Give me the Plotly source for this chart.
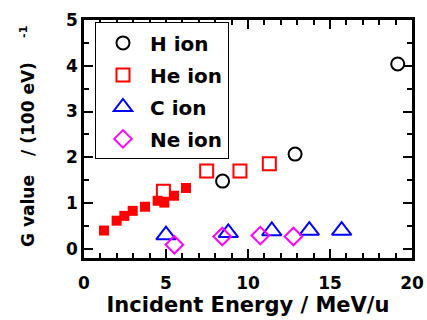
import plotly.graph_objects as go

# Radiation chemical yield (G value) versus incident ion energy
h_energy = [8.45, 12.87, 19.13]
h_g = [1.48, 2.07, 4.04]

he_energy = [4.84, 7.48, 9.51, 11.30]
he_g = [1.26, 1.70, 1.70, 1.86]

he_fill_energy = [1.22, 1.99, 2.46, 2.97, 3.72, 4.49, 4.90, 5.49, 6.22]
he_fill_g = [0.40, 0.615, 0.72, 0.83, 0.92, 1.05, 1.01, 1.16, 1.33]

c_energy = [5.00, 8.80, 11.45, 13.74, 15.71]
c_g = [0.30, 0.35, 0.39, 0.40, 0.40]

ne_energy = [5.51, 8.43, 10.75, 12.77]
ne_g = [0.09, 0.27, 0.29, 0.27]

x_ticks = [0, 5, 10, 15, 20]
y_ticks = [0, 1, 2, 3, 4, 5]

FONT = "DejaVu Sans"

fig = go.Figure()

fig.add_trace(go.Scatter(
    x=he_fill_energy, y=he_fill_g, mode="markers", showlegend=False,
    marker=dict(symbol="square", size=10, color="#ff0000", line=dict(width=0)),
))
fig.add_trace(go.Scatter(
    x=h_energy, y=h_g, mode="markers", name="H ion", legendgroup="h",
    marker=dict(symbol="circle-open", size=13, color="#000000", line=dict(width=2)),
))
fig.add_trace(go.Scatter(
    x=he_energy, y=he_g, mode="markers", name="He ion", legendgroup="he",
    marker=dict(symbol="square-open", size=13, color="#ff0000", line=dict(width=2)),
))
fig.add_trace(go.Scatter(
    x=c_energy, y=c_g, mode="markers", name="C ion", legendgroup="c",
    marker=dict(symbol="triangle-up-open", size=17, color="#0000ff", line=dict(width=2)),
))
fig.add_trace(go.Scatter(
    x=ne_energy, y=ne_g, mode="markers", name="Ne ion", legendgroup="ne",
    marker=dict(symbol="diamond-open", size=13.5, color="#ff00ff", line=dict(width=2)),
))

axis_common = dict(
    showgrid=False, zeroline=False, showline=True, linecolor="black", linewidth=2.5,
    mirror="allticks", ticks="inside", ticklen=9, tickwidth=2, tickcolor="black",
    automargin=False,
    tickfont=dict(family=FONT, size=17, color="black", weight="bold"),
)

fig.update_xaxes(
    range=[0, 20], tickvals=x_ticks, ticktext=[str(v) for v in x_ticks],
    ticklabelstandoff=8,
    minor=dict(dtick=1, ticks="inside", ticklen=5, tickwidth=2, tickcolor="black"),
    title=dict(text="Incident Energy / MeV/u",
               font=dict(family=FONT, size=21, color="black", weight="bold"), standoff=5),
    **axis_common,
)
fig.update_yaxes(
    range=[-0.2, 5], tickvals=y_ticks, ticktext=[str(v) for v in y_ticks],
    minor=dict(dtick=0.5, ticks="inside", ticklen=5, tickwidth=2, tickcolor="black"),
    **axis_common,
)

title_font = dict(family=FONT, size=17, color="black", weight="bold")
fig.add_annotation(text="G value", xref="paper", yref="paper", x=-0.171, y=0.1975,
                   textangle=-90, showarrow=False, font=title_font,
                   xanchor="center", yanchor="middle")
fig.add_annotation(text="/ (100 eV)", xref="paper", yref="paper", x=-0.171, y=0.626,
                   textangle=-90, showarrow=False, font=title_font,
                   xanchor="center", yanchor="middle")
fig.add_annotation(text="-1", xref="paper", yref="paper", x=-0.183, y=0.95,
                   textangle=-90, showarrow=False,
                   font=dict(family=FONT, size=11, color="black", weight="bold"),
                   xanchor="center", yanchor="middle")

fig.update_layout(
    width=427, height=320,
    margin=dict(l=84, r=15, t=20, b=62),
    paper_bgcolor="white", plot_bgcolor="white",
    legend=dict(
        x=0.0335, y=0.99, xanchor="left", yanchor="top",
        bgcolor="white", bordercolor="black", borderwidth=1,
        font=dict(family=FONT, size=20, color="black", weight="bold"),
        traceorder="grouped", tracegroupgap=3, itemwidth=44,
    ),
)

fig.write_html("out.html")
